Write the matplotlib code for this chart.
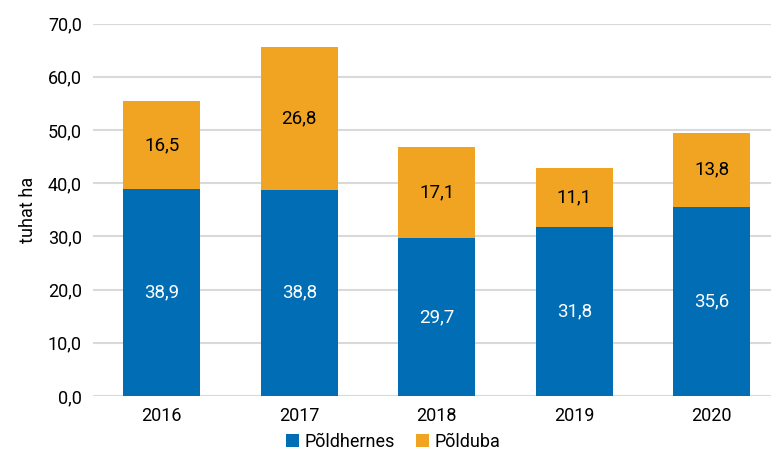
import matplotlib.pyplot as plt
import numpy as np

plt.rcParams['font.family'] = ['Roboto', 'DejaVu Sans']

years = ["2016", "2017", "2018", "2019", "2020"]
hernes = [38.9, 38.8, 29.7, 31.8, 35.6]
duba = [16.5, 26.8, 17.1, 11.1, 13.8]

blue = "#006db4"
orange = "#f0a422"

fig = plt.figure(figsize=(7.71, 4.59), dpi=100)
ax = fig.add_axes([0.1206, 0.1373, 0.8794, 0.8115])

x = np.arange(len(years))
w = 0.56
ax.bar(x, hernes, w, color=blue, label="Põldhernes", zorder=3)
ax.bar(x, duba, w, bottom=hernes, color=orange, label="Põlduba", zorder=3)

fmt = lambda v: "{:.1f}".format(v).replace(".", ",")
for i in range(len(years)):
    ax.text(x[i], hernes[i] / 2, fmt(hernes[i]), ha="center", va="center",
            color="white", fontsize=13.5, zorder=4)
    ax.text(x[i], hernes[i] + duba[i] / 2, fmt(duba[i]), ha="center", va="center",
            color="black", fontsize=13.5, zorder=4)

ax.set_ylim(0, 70)
ax.set_xlim(-0.5, 4.43)
ax.set_yticks(np.arange(0, 71, 10))
ax.set_yticklabels([fmt(v) for v in np.arange(0, 71, 10)], fontsize=13)
ax.set_xticks(x)
ax.set_xticklabels(years, fontsize=13)
ax.tick_params(length=0, pad=8)
ax.grid(axis="y", color="#d9d9d9", linewidth=1.5, zorder=0)
for s in ax.spines.values():
    s.set_visible(False)
ax.set_ylabel("tuhat ha", fontsize=13, labelpad=8)

ax.legend(loc="upper center", bbox_to_anchor=(0.5 - 0.057, -0.07), ncol=2, frameon=False,
          fontsize=13, handlelength=0.7, handleheight=0.7, handletextpad=0.3,
          columnspacing=1.2, borderaxespad=0.2)

fig.savefig("out.png", dpi=100)
